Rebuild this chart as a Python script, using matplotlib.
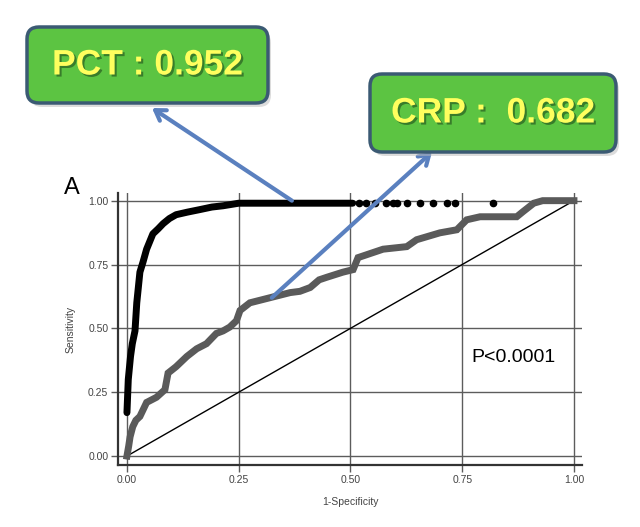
import matplotlib
matplotlib.use("Agg")
import matplotlib.pyplot as plt
import matplotlib.patheffects as pe
from matplotlib.patches import FancyBboxPatch

plt.rcParams["font.family"] = ["Liberation Sans", "DejaVu Sans"]

# ROC curve for PCT (thick black line + scattered points at the top)
pct_x = [0.0, 0.003, 0.008, 0.012, 0.018, 0.022, 0.029, 0.036, 0.044, 0.058,
         0.07, 0.081, 0.095, 0.11, 0.135, 0.163, 0.19, 0.215, 0.25, 0.30,
         0.40, 0.505]
pct_y = [0.17, 0.30, 0.39, 0.44, 0.49, 0.60, 0.72, 0.76, 0.81, 0.87,
         0.89, 0.91, 0.93, 0.945, 0.955, 0.965, 0.975, 0.98, 0.99, 0.99,
         0.99, 0.99]
pct_dots_x = [0.52, 0.535, 0.555, 0.58, 0.595, 0.605, 0.626, 0.655, 0.685,
              0.715, 0.735, 0.82]
pct_dots_y = [0.99] * len(pct_dots_x)

# ROC curve for CRP (thick grey line)
crp_x = [0.0, 0.004, 0.007, 0.013, 0.02, 0.029, 0.044, 0.055, 0.066, 0.085,
         0.092, 0.11, 0.134, 0.156, 0.178, 0.2, 0.215, 0.23, 0.245, 0.253,
         0.275, 0.32, 0.365, 0.387, 0.41, 0.43, 0.447, 0.483, 0.506, 0.517,
         0.573, 0.626, 0.648, 0.70, 0.738, 0.76, 0.79, 0.872, 0.886, 0.91,
         0.93, 1.0]
crp_y = [0.0, 0.04, 0.075, 0.115, 0.14, 0.155, 0.21, 0.22, 0.23, 0.26,
         0.325, 0.35, 0.39, 0.42, 0.44, 0.48, 0.49, 0.505, 0.53, 0.57,
         0.60, 0.62, 0.64, 0.645, 0.66, 0.69, 0.70, 0.72, 0.73, 0.777,
         0.81, 0.82, 0.847, 0.874, 0.886, 0.925, 0.937, 0.937, 0.957, 0.99,
         1.0, 1.0]

ref_x = [0.0, 1.0]
ref_y = [0.0, 1.0]

ticks = [0.0, 0.25, 0.5, 0.75, 1.0]
tick_labels = ["0.00", "0.25", "0.50", "0.75", "1.00"]

W, H = 640, 527
fig = plt.figure(figsize=(W / 100, H / 100), dpi=100)
ax = fig.add_axes([118 / W, 62 / H, 464 / W, 272 / H])

ax.plot(ref_x, ref_y, color="black", lw=1.0, zorder=2)
ax.plot(crp_x, crp_y, color="#5a5a5a", lw=5, solid_joinstyle="miter",
        zorder=3)
ax.plot(pct_x, pct_y, color="black", lw=5, solid_capstyle="round", zorder=4)
ax.plot(pct_dots_x, pct_dots_y, "o", color="black", ms=4.5, zorder=4)

ax.set_xlim(-0.02, 1.018)
ax.set_ylim(-0.035, 1.03)
ax.set_xticks(ticks)
ax.set_xticklabels(tick_labels)
ax.set_yticks(ticks)
ax.set_yticklabels(tick_labels)
ax.tick_params(length=5, width=1, color="#5c5c5c", labelsize=7.5,
               labelcolor="#444", pad=2)
ax.grid(True, color="#5c5c5c", lw=1)
ax.set_axisbelow(True)
for s in ("top", "right"):
    ax.spines[s].set_visible(False)
for s in ("left", "bottom"):
    ax.spines[s].set_color("#333")
    ax.spines[s].set_linewidth(1.6)

ax.set_ylabel("Sensitivity", fontsize=7.5, color="#444", labelpad=9)
ax.set_xlabel("1-Specificity", fontsize=7.5, color="#444", labelpad=9)

ax.text(0.77, 0.385, "P<0.0001", fontsize=14, color="black",
        ha="left", va="center")
fig.text(72 / W, 1 - 188 / H, "A", fontsize=17, ha="center", va="center")

# callout boxes (figure pixel coords)
def callout(x0, y0, x1, y1, label):
    w, h = (x1 - x0) / 100, (y1 - y0) / 100
    left, bottom = x0 / 100, (H - y1) / 100
    shadow = FancyBboxPatch((left + 0.03, bottom - 0.04), w, h,
                            boxstyle="round,pad=0,rounding_size=0.12",
                            transform=fig.dpi_scale_trans,
                            fc="#bbbbbb", ec="none", alpha=0.5, zorder=9)
    box = FancyBboxPatch((left, bottom), w, h,
                         boxstyle="round,pad=0,rounding_size=0.12",
                         transform=fig.dpi_scale_trans,
                         fc="#5cc442", ec="#3b5a73", lw=2.5, zorder=10)
    fig.add_artist(shadow)
    fig.add_artist(box)
    fig.text((x0 + x1) / 2 / W, 1 - (y0 + y1) / 2 / H, label,
             fontsize=25.5, fontweight="bold", color="#ffff5e",
             ha="center", va="center", zorder=11,
             path_effects=[pe.withSimplePatchShadow(offset=(1.5, -1.5),
                                                    shadow_rgbFace="#2f6a24",
                                                    alpha=0.8)])

callout(27, 27, 268, 103, "PCT : 0.952")
callout(370, 74, 616, 152, "CRP :  0.682")

arrow_kw = dict(arrowstyle="->,head_length=0.7,head_width=0.45",
                color="#5a80bf", lw=3, shrinkA=0, shrinkB=0)
ax.annotate("", xy=(152, H - 108), xycoords="figure pixels",
            xytext=(0.369, 1.0), textcoords="data",
            arrowprops=arrow_kw, zorder=8)
ax.annotate("", xy=(432, H - 152), xycoords="figure pixels",
            xytext=(0.324, 0.62), textcoords="data",
            arrowprops=arrow_kw, zorder=8)

fig.savefig("out.png", dpi=100)
